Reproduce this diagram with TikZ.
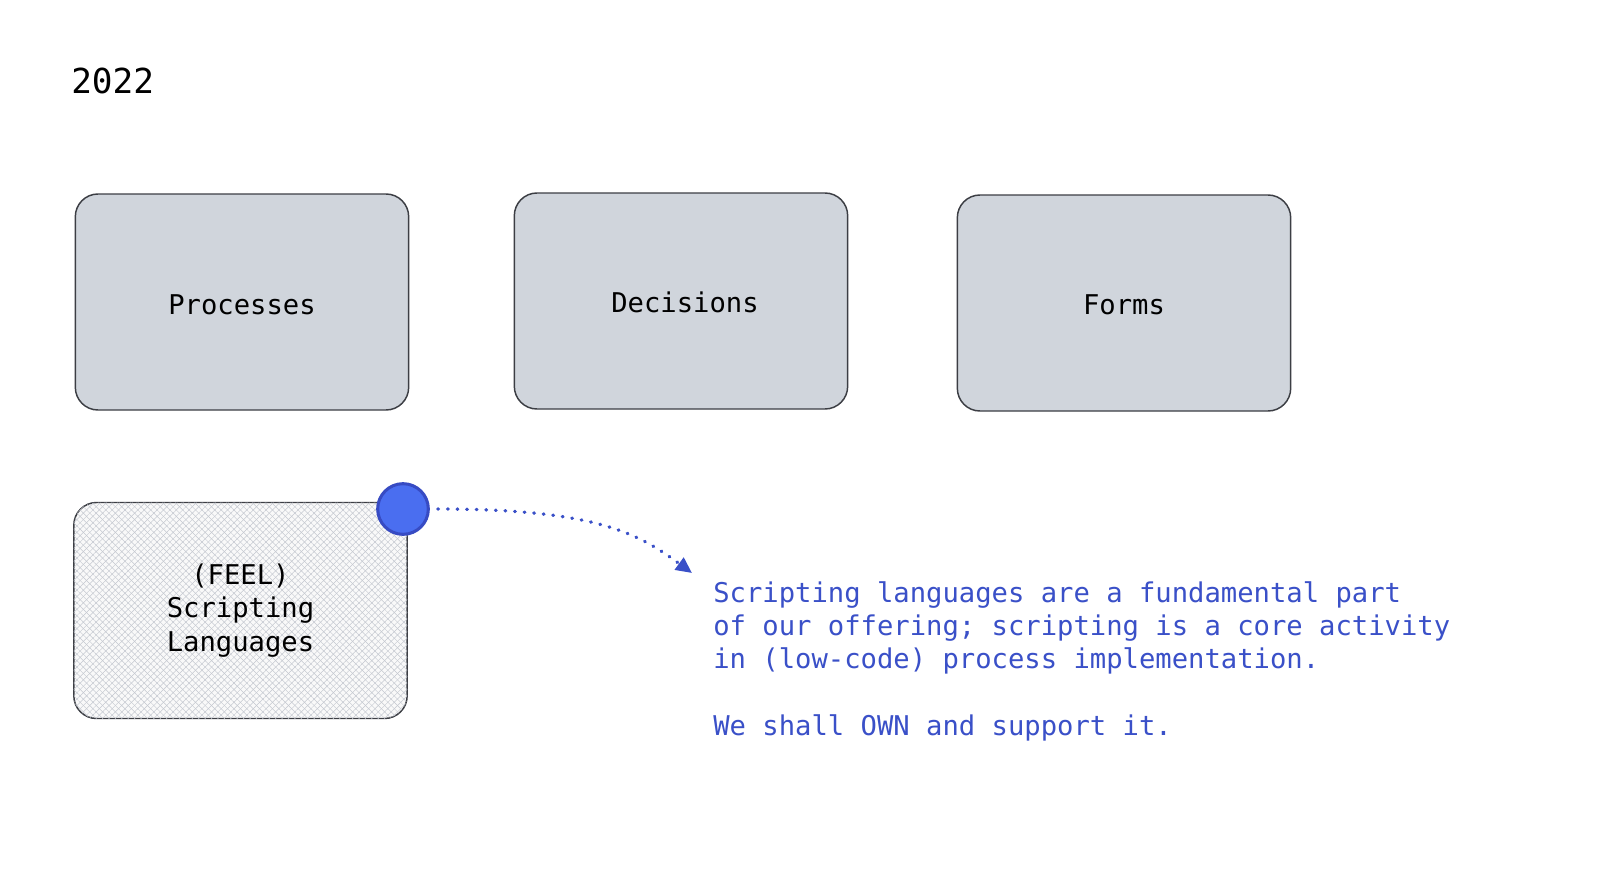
\documentclass[tikz,border=0pt]{standalone}
\usepackage{fontspec}
\setmonofont{DejaVu Sans Mono}
\usetikzlibrary{patterns.meta,arrows.meta}
\definecolor{boxgray}{RGB}{208,213,220}
\definecolor{edgegray}{RGB}{60,62,68}
\definecolor{accent}{RGB}{58,80,200}
\definecolor{dotfill}{RGB}{74,110,240}
\definecolor{dotedge}{RGB}{55,75,195}
\definecolor{hatchgray}{RGB}{196,200,208}
\newcommand{\nudgetext}[3]{\raisebox{-#2}[\height][\depth]{\hspace*{#1}#3\hspace*{-#1}}}
\tikzset{
  area/.style={rectangle, draw=edgegray, line width=1.1pt, rounded corners=17pt,
    minimum width=250pt, minimum height=162pt, inner sep=0pt, align=center,
    font=\ttfamily\fontsize{20.4}{25.4}\selectfont, text=black},
  solidarea/.style={area, fill=boxgray},
  hatcharea/.style={area, fill=gray!5,
    postaction={pattern={Lines[angle=45,distance=3.4pt,line width=0.35pt]}, pattern color=hatchgray},
    postaction={pattern={Lines[angle=-45,distance=3.4pt,line width=0.35pt]}, pattern color=hatchgray}},
  marker/.style={circle, minimum size=38pt, inner sep=0pt, fill=dotfill, draw=dotedge, line width=2.3pt},
  link/.style={accent, line width=2.5pt, dash pattern=on 0.5pt off 6.7pt, line cap=round,
    -{Triangle[length=12pt,width=11pt]}},
  note/.style={anchor=north west, inner sep=0pt, align=left, text=accent,
    font=\ttfamily\fontsize{20.4}{25}\selectfont},
  heading/.style={anchor=base west, inner sep=0pt, font=\ttfamily\fontsize{25.8}{30}\selectfont}
}
\begin{document}
\begin{tikzpicture}[x=0.75pt,y=-0.75pt]
\useasboundingbox[fill=white] (0,0) rectangle (1605,885);
\node[heading] (year) at (71,93) {2022};
\node[solidarea] (proc) at (242,302) {\nudgetext{0pt}{2.2pt}{Processes}};
\node[solidarea] (dec) at (681,301) {\nudgetext{3pt}{0.8pt}{Decisions}};
\node[solidarea] (forms) at (1124,303) {\nudgetext{0pt}{1.4pt}{Forms}};
\node[hatcharea] (script) at (240.5,610.5) {(FEEL)\\Scripting\\Languages};
\node[marker] (dot) at (403,509) {};
\coordinate (tip) at (692,573);
\draw[link] ([xshift=6pt]dot.east) .. controls (600,509) and (640,535) .. (tip);
\node[note] (desc) at (713,581) {Scripting languages are a fundamental part\\of our offering; scripting is a core activity\\in (low-code) process implementation.\\[25pt]We shall OWN and support it.};
\end{tikzpicture}
\end{document}
